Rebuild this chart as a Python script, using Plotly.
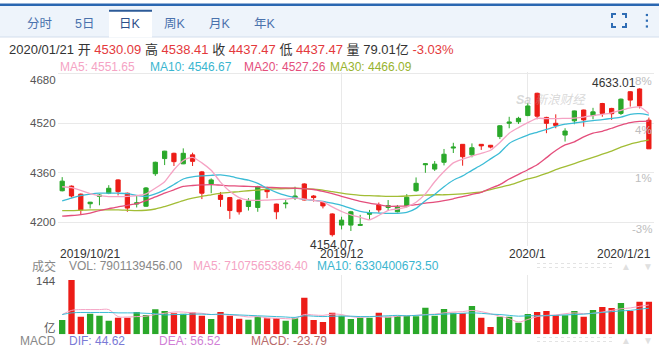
import plotly.graph_objects as go

W, H = 659, 350
def px(x): return x / W
def py(y): return 1 - y / H

# ---------------- data ----------------
opens  = [4302,4317,4291,4260,4284,4294,4337,4294,4259,4252,4357,4406,4423,4389,4418,4363,4324,4288,4280,4272,
          4251,4248,4307,4259,4260,4277,4324,4285,4266,4227,4191,4191,4190,4226,4256,4248,4234,4253,4302,4386,
          4372,4394,4440,4452,4418,4452,4449,4477,4520,4525,4545,4617,4539,4520,4482,4528,4563,4545,4584,4568,
          4552,4622,4631,4530.09]
highs  = [4346,4319,4293,4266,4291,4320,4339,4296,4285,4314,4396,4431,4425,4439,4425,4366,4342,4298,4282,4274,
          4278,4318,4315,4260,4272,4315,4326,4288,4267,4229,4218,4237,4224,4240,4264,4272,4256,4291,4345,4391,
          4398,4437,4457,4453,4455,4453,4450,4514,4541,4541,4585,4619,4541,4549,4504,4561,4564,4570,4586,4570,
          4600,4624,4633.01,4538.41]
lows   = [4300,4280,4224,4245,4255,4291,4287,4234,4248,4250,4350,4385,4382,4388,4382,4275,4294,4250,4211,4225,
          4238,4234,4278,4210,4245,4272,4271,4267,4245,4154.07,4177,4172,4188,4208,4231,4238,4232,4248,4299,4360,
          4366,4384,4424,4383,4410,4434,4439,4469,4504,4518,4543,4533,4488,4504,4461,4517,4509,4533,4541,4531,
          4547,4574,4568,4437.47]
closes = [4333,4285,4240,4265,4288,4310,4299,4246,4263,4311,4394,4430,4396,4423,4397,4294,4337,4274,4238,4234,
          4269,4315,4299,4234,4262,4285,4272,4280,4253,4160,4207,4234,4193,4231,4240,4254,4249,4281,4326,4389,
          4388,4420,4443,4412,4441,4447,4443,4512,4524,4536,4576,4543,4520,4513,4495,4560,4531,4557,4552,4551,
          4598,4595,4576.1,4437.47]

ma5  = [4315,4312,4303,4293,4286,4283,4283,4284,4286,4292,4310,4331,4370,4400,4410,4392,4368,4330,4300,4280,
        4272,4271,4272,4273,4275,4278,4275,4271,4266,4250,4235,4224,4216,4208,4222,4238,4243,4250,4265,4292,
        4331,4364,4392,4404,4414,4423,4433,4458,4488,4506,4522,4536,4535,4535,4536,4537,4540,4545,4549,4554,
        4562,4570,4573,4551.65]
ma10 = [4269,4278,4286,4291,4294,4294,4294,4293,4287,4284,4292,4305,4322,4340,4347,4350,4352,4353,4349,4342,
        4336,4326,4310,4297,4287,4280,4274,4271,4268,4262,4255,4245,4235,4231,4230,4229,4229,4232,4245,4270,
        4290,4315,4336,4350,4368,4385,4405,4425,4455,4470,4482,4491,4500,4510,4517,4521,4525,4529,4532,4536,
        4540,4549,4551,4546.67]
ma20 = [4220,4222,4225,4230,4238,4244,4250,4255,4260,4270,4282,4294,4305,4316,4319,4321,4322,4320,4318,4317,
        4316,4315,4313,4312,4311,4310,4309,4306,4300,4293,4284,4276,4268,4262,4257,4252,4252,4253,4257,4262,
        4265,4270,4276,4283,4290,4297,4310,4322,4340,4355,4370,4386,4409,4432,4450,4460,4476,4488,4494,4504,
        4514,4522,4526,4527.26]
ma30 = [4238,4238,4239,4240,4240,4240,4240,4239,4238,4239,4243,4251,4260,4270,4278,4284,4289,4294,4297,4299,
        4302,4304,4307,4308,4309,4310,4309,4307,4304,4299,4294,4290,4287,4286,4285,4284,4284,4285,4287,4288,
        4289,4289,4290,4292,4295,4298,4306,4313,4320,4330,4340,4348,4358,4370,4380,4390,4400,4410,4420,4430,
        4443,4453,4460,4466.09]

volume = [34.7,132,42.8,50,45,33,40,40,54,47,61,56.5,51,50,53,45,37,54,45,38,
          35.5,42.8,39,39,33,39,89,34.7,30,52.5,45,37,40,40,52.5,42.8,44.4,44.4,44,64.6,
          45,61.4,52.5,51,68.7,40.3,17.7,42.8,42.8,28.2,49.3,54.1,56.6,46.1,46.1,56.6,42.8,59,66.3,63.8,
          76,56.6,79.2,79.01]
vol_ma5 = [48,58,60,60,60,60,43,42,43,44,48,51,54,54,52,51,48,48,47,45,
           42,43,40,39,38,38,48,47,46,49,48,43,41,43,43,41,44,45,46,48,
           49,52,54,55,58,55,50,44,38,30,36,43,46,47,50,52,50,51,54,58,
           62,64,68,71.08]
vol_ma10 = [48,52,53,53,53,53,52,52,52,51,50,47,48,48,49,49,48,49,48,47,
            46,45,44,43,42,41,45,44,43,44,44,44,43,43,44,45,46,45,46,47,
            48,49,50,51,52,51,49,48,46,44,45,45,45,46,47,48,49,51,53,55,
            57,58,61,63.30]

price_ticks = [4200, 4360, 4520, 4680]
pct_labels = ["-3%", "1%", "4%", "8%"]
x_label_text = ["2019/10/21", "2019/12", "2020/1", "2020/1/21"]
x_label_idx = [0, 30, 50, 63]
tabs = ["分时", "5日", "日K", "周K", "月K", "年K"]

idx = list(range(len(closes)))

RED = "#ec1c17"
GREEN = "#2aa82a"
C_MA5 = "#f5a3c4"
C_MA10 = "#3cbcd6"
C_MA20 = "#e44e7c"
C_MA30 = "#a2bd35"
FONT = "Arial, 'Liberation Sans', 'Noto Sans CJK SC', sans-serif"

fig = go.Figure()

fig.add_trace(go.Candlestick(
    x=idx, open=opens, high=highs, low=lows, close=closes,
    increasing=dict(line=dict(color=GREEN, width=1), fillcolor=GREEN),
    decreasing=dict(line=dict(color=RED, width=1), fillcolor=RED),
    whiskerwidth=0, xaxis="x", yaxis="y", hoverinfo="skip", showlegend=False))

for ser, col in [(ma30, C_MA30), (ma20, C_MA20), (ma10, C_MA10), (ma5, C_MA5)]:
    fig.add_trace(go.Scatter(x=idx, y=ser, mode="lines", line=dict(color=col, width=1.3, shape="spline", smoothing=0.6),
                             xaxis="x", yaxis="y", hoverinfo="skip", showlegend=False))

bar_colors = [GREEN if c >= o else RED for o, c in zip(opens, closes)]
fig.add_trace(go.Bar(x=idx, y=volume, marker=dict(color=bar_colors, line=dict(width=0)), width=0.68,
                     xaxis="x2", yaxis="y2", hoverinfo="skip", showlegend=False))
fig.add_trace(go.Scatter(x=idx, y=vol_ma5, mode="lines", line=dict(color=C_MA5, width=1, shape="spline"),
                         xaxis="x2", yaxis="y2", hoverinfo="skip", showlegend=False))
fig.add_trace(go.Scatter(x=idx, y=vol_ma10, mode="lines", line=dict(color=C_MA10, width=1, shape="spline"),
                         xaxis="x2", yaxis="y2", hoverinfo="skip", showlegend=False))

XR = [-0.45, 63.55]
XD = [px(58), px(654)]
GRID = "#e9e9e9"

# price axis range from pixel geometry: 4520 at y=123.3, 0.3094 px/unit
y_top, y_bot = 72, 246
p_top = 4520 + (123.3 - y_top) / 0.3094
p_bot = 4520 - (y_bot - 123.3) / 0.3094

fig.update_layout(
    width=W, height=H, margin=dict(l=0, r=0, t=0, b=0),
    paper_bgcolor="white", plot_bgcolor="white",
    font=dict(family=FONT, size=12, color="#333"),
    boxgap=0.35,
    xaxis=dict(domain=XD, range=XR, showgrid=True, gridcolor=GRID, tickvals=[30, 50], showticklabels=False,
               zeroline=False, showline=False, rangeslider=dict(visible=False), fixedrange=True, anchor="y"),
    yaxis=dict(domain=[py(y_bot), py(y_top)], range=[p_bot, p_top], tickvals=price_ticks, showticklabels=False,
               showgrid=True, gridcolor=GRID, zeroline=False, showline=False, fixedrange=True, anchor="x"),
    xaxis2=dict(domain=XD, range=XR, showgrid=True, gridcolor=GRID, tickvals=[30, 50], showticklabels=False,
                zeroline=False, showline=False, fixedrange=True, anchor="y2"),
    yaxis2=dict(domain=[py(334.3), py(275)], range=[0, 144], tickvals=[144], showticklabels=False,
                showgrid=True, gridcolor=GRID, zeroline=False, showline=False, fixedrange=True, anchor="x2"),
    hovermode=False,
)

shapes = []
# tab bar
shapes.append(dict(type="rect", xref="paper", yref="paper", x0=0, x1=1, y0=py(37), y1=py(6),
                   fillcolor="#eef4fb", line=dict(width=0), layer="below"))
shapes.append(dict(type="rect", xref="paper", yref="paper", x0=0, x1=1, y0=py(6), y1=py(3.5),
                   fillcolor="#2a67b1", line=dict(width=0)))
shapes.append(dict(type="line", xref="paper", yref="paper", x0=0, x1=1, y0=py(37), y1=py(37),
                   line=dict(color="#d3deec", width=1)))
shapes.append(dict(type="rect", xref="paper", yref="paper", x0=px(109), x1=px(152), y0=py(37.6), y1=py(10),
                   fillcolor="white", line=dict(width=0)))
shapes.append(dict(type="line", xref="paper", yref="paper", x0=px(109), x1=px(152), y0=py(10.8), y1=py(10.8),
                   line=dict(color="#2d5b98", width=2)))
# fullscreen icon corners
ic = "#2f6db5"
for (cx, cy, dx, dy) in [(612, 14, 1, 1), (626, 14, -1, 1), (612, 27, 1, -1), (626, 27, -1, -1)]:
    shapes.append(dict(type="path", xref="paper", yref="paper",
                       path=f"M {px(cx+4*dx)} {py(cy)} L {px(cx)} {py(cy)} L {px(cx)} {py(cy+4*dy)}",
                       line=dict(color=ic, width=2)))
for dyy in [15, 20.7, 26.5]:
    shapes.append(dict(type="rect", xref="paper", yref="paper", x0=px(645.8), x1=px(648), y0=py(dyy+1.1), y1=py(dyy-1.1),
                       fillcolor=ic, line=dict(width=0)))
# scroll control dots
for yy in [263.5, 267.5, 337.5, 341.5]:
    shapes.append(dict(type="line", xref="paper", yref="paper", x0=px(537), x1=px(614), y0=py(yy), y1=py(yy),
                       line=dict(color="#e3e3e3", width=1, dash="dot")))
fig.update_layout(shapes=shapes)

ann = []
def A(x, y, text, color="#333", size=12, xanchor="left", yanchor="middle", xref="paper", yref="paper", **kw):
    ann.append(dict(x=x, y=y, xref=xref, yref=yref, text=text, showarrow=False, xanchor=xanchor, yanchor=yanchor,
                    font=dict(family=FONT, size=size, color=color), **kw))

# tabs
tab_x = [40, 84, 130, 175, 220, 265]
for t, tx in zip(tabs, tab_x):
    A(px(tx), py(24), t, color="#2c4f8a" if t == "日K" else "#4a72ad", size=12.5, xanchor="center")

# info line
R = "#e4393c"
info = ("2020/01/21 开 <span style='color:%s'>4530.09</span> 高 <span style='color:%s'>4538.41</span> "
        "收 <span style='color:%s'>4437.47</span> 低 <span style='color:%s'>4437.47</span> 量 79.01亿 "
        "<span style='color:%s'>-3.03%%</span>") % (R, R, R, R, R)
A(px(7), py(50), info, size=13)

# MA legend
A(px(58), py(67), "MA5: 4551.65", color=C_MA5)
A(px(148), py(67), "MA10: 4546.67", color="#3ab6d0")
A(px(241.5), py(67), "MA20: 4527.26", color=C_MA20)
A(px(328), py(67), "MA30: 4466.09", color="#98b32e")

# price labels
for v in price_ticks:
    yy = 123.3 + (4520 - v) * 0.3094
    if v == 4680:
        yy = 80
    A(px(57.5), py(yy), str(v), color="#555", size=11.5, xanchor="right")
pct_y = [229, 178, 130, 81]
for lab, yy in zip(pct_labels, pct_y):
    A(px(654), py(yy), lab, color="#bdbdbd", size=11.5, xanchor="right")

# extreme labels
A(29, 4154.07, "4154.07", xref="x", yref="y", xanchor="center", yanchor="top", size=12, yshift=1)
A(62, 4633.01, "4633.01", xref="x", yref="y", xanchor="right", yanchor="bottom", size=12, xshift=-2, yshift=-4)

# watermark
A(px(551), py(100), "<b><i>Sa</i></b> <i>新浪财经</i>", color="rgba(170,170,170,0.45)", size=12.5, xanchor="center")

# x labels
for lab, i in zip(x_label_text, x_label_idx):
    if i == 0:
        A(i, py(254.5), lab, xref="x", xanchor="left", xshift=-4.5)
    elif i == 63:
        A(i, py(254.5), lab, xref="x", xanchor="right", xshift=4.5)
    else:
        A(i, py(254.5), lab, xref="x", xanchor="center")

# volume legend
A(px(57.5), py(266), "成交", color="#888", xanchor="right")
A(px(66.5), py(266), "VOL: 7901139456.00", color="#888")
A(px(190.5), py(266), "MA5: 7107565386.40", color=C_MA5)
A(px(314.5), py(266), "MA10: 6330400673.50", color="#3ab6d0")
A(px(57.5), py(280.5), "144", color="#555", size=11.5, xanchor="right")
A(px(57.5), py(328), "亿", color="#555", size=11.5, xanchor="right")

# MACD legend
A(px(57.5), py(340.5), "MACD", color="#888", xanchor="right")
A(px(66.5), py(340.5), "DIF: 44.62", color="#7a7ad6")
A(px(157), py(340.5), "DEA: 56.52", color="#d17fd6")
A(px(249), py(340.5), "MACD: -23.79", color="#b86a6a")

# scroll arrows
for yy in [266, 340]:
    A(px(626), py(yy), "▲", color="#e0e0e0", size=10, xanchor="center")
    A(px(648), py(yy), "▼", color="#e0e0e0", size=10, xanchor="center")

fig.update_layout(annotations=ann)
fig.write_html("out.html", config={"displayModeBar": False})
